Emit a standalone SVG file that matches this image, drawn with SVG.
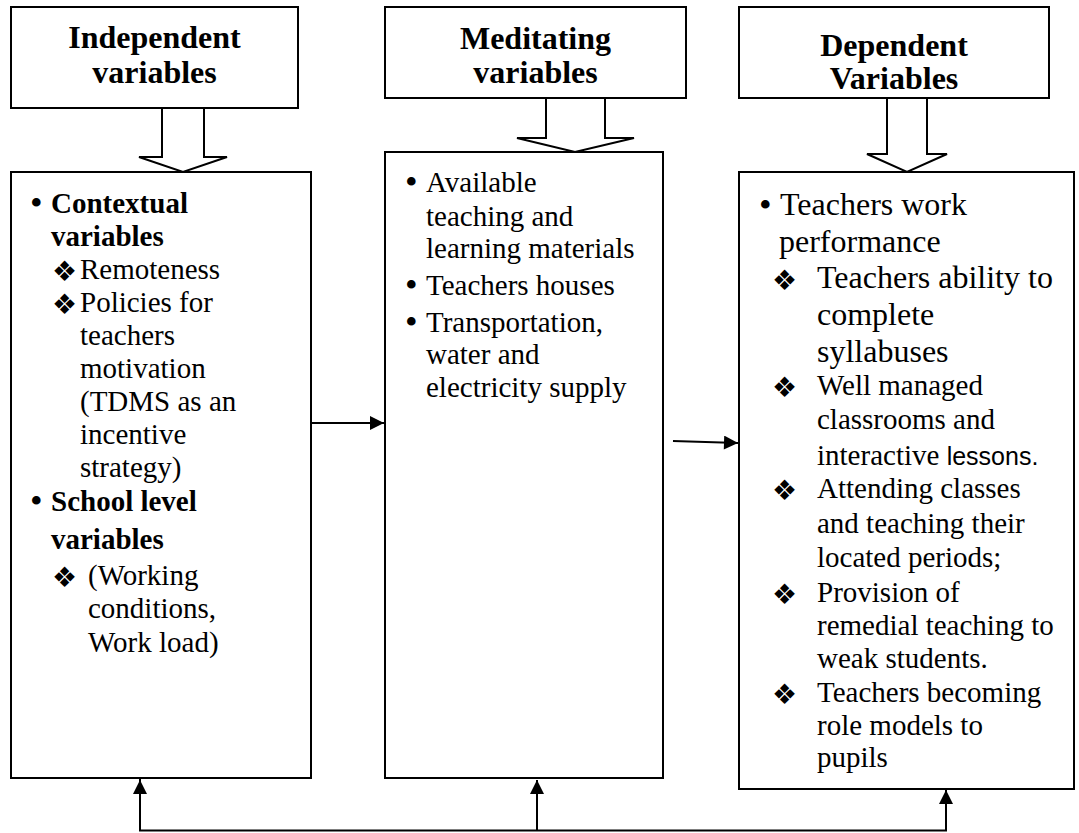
<svg xmlns="http://www.w3.org/2000/svg" width="1079" height="833" viewBox="0 0 1079 833">
<style>
.box{fill:#fff;stroke:#000;stroke-width:2}
.hd{font-family:"Liberation Serif","Times New Roman",serif;font-weight:bold;font-size:32px;text-anchor:middle;fill:#000}
.t29{font-family:"Liberation Serif","Times New Roman",serif;font-size:29px;fill:#000}
.t32{font-family:"Liberation Serif","Times New Roman",serif;font-size:32px;fill:#000}
.b{font-weight:bold}
.dm{font-family:"DejaVu Sans",sans-serif;font-size:28px;fill:#000}
.bl{font-family:"Liberation Serif","Times New Roman",serif;font-size:36px;fill:#000}
.ln{fill:none;stroke:#000;stroke-width:2}
.sans{font-family:"Liberation Sans",Arial,sans-serif;font-size:25px}
</style>
<defs>
<marker id="ah" viewBox="0 0 10 10" refX="10" refY="5" markerWidth="8" markerHeight="7" markerUnits="strokeWidth" orient="auto">
<path d="M0,0 L10,5 L0,10 z" fill="#000"/>
</marker>
</defs>

<g id="header-independent">
<rect class="box" x="11" y="7" width="287" height="101"/>
<text class="hd" x="154.5" y="48">Independent</text>
<text class="hd" x="154.5" y="83">variables</text>
</g>
<g id="header-meditating">
<rect class="box" x="385" y="7" width="301" height="91"/>
<text class="hd" x="535.5" y="49">Meditating</text>
<text class="hd" x="535.5" y="83">variables</text>
</g>
<g id="header-dependent">
<rect class="box" x="739" y="7" width="310" height="91"/>
<text class="hd" x="894" y="56">Dependent</text>
<text class="hd" x="894" y="88.5">Variables</text>
</g>

<g id="box-independent">
<rect class="box" x="11" y="172" width="300" height="606"/>
<text class="bl" x="30" y="215">•</text>
<text class="t29 b" x="51" y="213">Contextual</text>
<text class="t29 b" x="51" y="246">variables</text>
<text class="dm" x="52" y="281">❖</text>
<text class="t29" x="80" y="279">Remoteness</text>
<text class="dm" x="52" y="314">❖</text>
<text class="t29" x="80" y="312">Policies for</text>
<text class="t29" x="80" y="345">teachers</text>
<text class="t29" x="80" y="378">motivation</text>
<text class="t29" x="80" y="411">(TDMS as an</text>
<text class="t29" x="80" y="444">incentive</text>
<text class="t29" x="80" y="477">strategy)</text>
<text class="bl" x="30" y="513">•</text>
<text class="t29 b" x="51" y="511">School level</text>
<text class="t29 b" x="51" y="549">variables</text>
<text class="dm" x="52" y="587">❖</text>
<text class="t29" x="88" y="585">(Working</text>
<text class="t29" x="88" y="618">conditions,</text>
<text class="t29" x="88" y="652">Work load)</text>
</g>

<g id="box-meditating">
<rect class="box" x="385" y="152" width="278" height="626"/>
<text class="bl" x="405" y="194">•</text>
<text class="t29" x="426" y="192">Available</text>
<text class="t29" x="426" y="226">teaching and</text>
<text class="t29" x="426" y="258">learning materials</text>
<text class="bl" x="405" y="297">•</text>
<text class="t29" x="426" y="295">Teachers houses</text>
<text class="bl" x="405" y="334">•</text>
<text class="t29" x="426" y="332">Transportation,</text>
<text class="t29" x="426" y="364">water and</text>
<text class="t29" x="426" y="397">electricity supply</text>
</g>

<g id="box-dependent">
<rect class="box" x="739" y="172" width="335" height="617"/>
<text class="bl" x="759" y="217">•</text>
<text class="t32" x="780" y="215">Teachers work</text>
<text class="t32" x="779" y="252">performance</text>
<text class="dm" x="772" y="290">❖</text>
<text class="t32" x="817" y="288">Teachers ability to</text>
<text class="t32" x="817" y="325">complete</text>
<text class="t32" x="817" y="362">syllabuses</text>
<text class="dm" x="772" y="397">❖</text>
<text class="t29" x="817" y="395">Well managed</text>
<text class="t29" x="817" y="429">classrooms and</text>
<text class="t29" x="817" y="465">interactive <tspan class="sans">lessons.</tspan></text>
<text class="dm" x="772" y="500">❖</text>
<text class="t29" x="817" y="498">Attending classes</text>
<text class="t29" x="817" y="533">and teaching their</text>
<text class="t29" x="817" y="567">located periods;</text>
<text class="dm" x="772" y="604">❖</text>
<text class="t29" x="817" y="602">Provision of</text>
<text class="t29" x="817" y="635">remedial teaching to</text>
<text class="t29" x="817" y="668">weak students.</text>
<text class="dm" x="772" y="704">❖</text>
<text class="t29" x="817" y="702">Teachers becoming</text>
<text class="t29" x="817" y="735">role models to</text>
<text class="t29" x="817" y="767">pupils</text>
</g>

<g id="connectors">
<polygon class="box" points="162,108 162,157 139,157 183,172 227,157 204,157 204,108"/>
<polygon class="box" points="546,98 546,138 517,138 575,152 634,138 605,138 605,98"/>
<polygon class="box" points="887,98 887,154 867,154 907,172 947,154 927,154 927,98"/>
<line class="ln" x1="311" y1="423" x2="384" y2="423" marker-end="url(#ah)"/>
<line class="ln" x1="673" y1="441" x2="738" y2="443" marker-end="url(#ah)"/>
<polyline class="ln" points="140,779 140,830.5 946,830.5 946,790" marker-end="url(#ah)"/>
<line class="ln" x1="140" y1="830" x2="140" y2="780" marker-end="url(#ah)"/>
<line class="ln" x1="537" y1="830" x2="537" y2="780" marker-end="url(#ah)"/>
</g>
</svg>
